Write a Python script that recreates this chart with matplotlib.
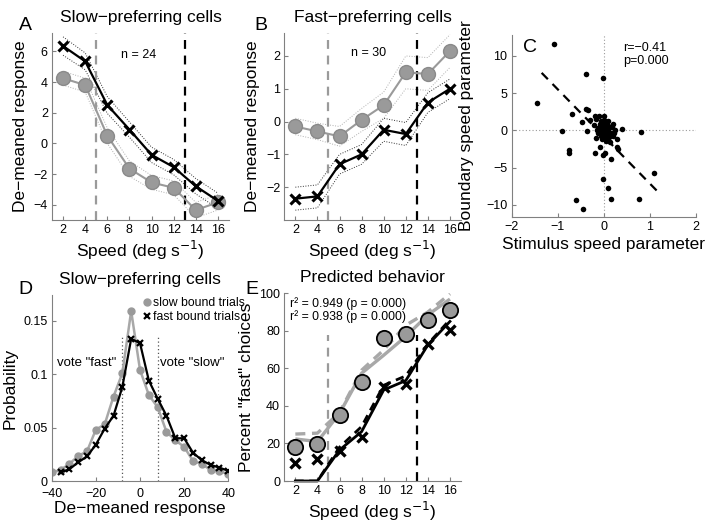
import numpy as np
import matplotlib
matplotlib.use("Agg")
import matplotlib.pyplot as plt

plt.rcParams['font.family'] = ['Liberation Sans', 'DejaVu Sans']

# ---------------- data ----------------
speeds = [2, 4, 6, 8, 10, 12, 14, 16]

# Panel A (slow-preferring cells)
a_fast_bound = [6.35, 5.35, 2.5, 0.9, -0.75, -1.55, -2.8, -3.75]
a_fast_err = [0.6, 0.55, 0.55, 0.5, 0.5, 0.5, 0.5, 0.5]
a_slow_bound = [4.25, 3.8, 0.5, -1.65, -2.55, -2.9, -4.35, -3.85]
a_slow_err = [0.45, 0.45, 0.5, 0.5, 0.45, 0.45, 0.5, 0.5]

# Panel B (fast-preferring cells)
b_slow_bound = [-0.15, -0.3, -0.45, 0.05, 0.5, 1.5, 1.45, 2.15]
b_slow_err = [0.25, 0.25, 0.3, 0.35, 0.4, 0.5, 0.5, 0.5]
b_fast_bound = [-2.35, -2.28, -1.3, -1.0, -0.25, -0.38, 0.58, 1.0]
b_fast_err = [0.35, 0.35, 0.3, 0.3, 0.35, 0.35, 0.3, 0.3]

slow_boundary = 5
fast_boundary = 13

# Panel C scatter
c_x = [-1.08, -1.46, -0.39, -0.02, -0.70, -0.90, -0.39, -0.35, -0.48, -0.37,
       -0.30, -0.75, -0.76, -0.19, -0.08, -0.02, 0.02, 0.16, 0.81, 0.40,
       0.29, 0.28, 0.30, 1.09, -0.01, 0.08, 0.15, 0.76, -0.60, -0.45,
       -0.20, -0.18, -0.10, 0.00, -0.16, 0.10, 0.20, 0.25, 0.20, 0.13,
       0.05, -0.05, -0.03, 0.02, 0.06, -0.08, 0.08, -0.12, 0.12, 0.00,
       -0.04, 0.04, -0.06, 0.06, 0.00, -0.02, 0.03, -0.09, 0.09, 0.01,
       -0.01, 0.05, -0.05, 0.15, -0.14, 0.02, -0.03, 0.07, -0.07, 0.11,
       0.18, -0.22, 0.22, 0.04, -0.11, -0.02, 0.03, -0.06, 0.07, -0.10,
       0.10, 0.00, -0.04, 0.05, -0.08, 0.01, 0.12, -0.13, 0.06, -0.01]
c_y = [11.6, 3.7, 7.5, 7.0, 2.2, -0.1, 2.85, 2.7, 1.1, -0.1,
       1.4, -2.6, -3.1, -3.1, -2.3, -3.3, -3.0, -3.9, -0.2, 0.2,
       -1.2, -2.3, -2.5, -5.7, -6.6, -7.7, -9.2, -9.2, -9.4, -10.5,
       1.9, 1.5, 1.9, 1.9, -1.0, 1.2, 0.9, 0.0, -0.8, -1.6,
       -1.4, 0.5, 1.0, 0.3, 0.8, 0.2, -0.3, -0.4, 0.4, -0.6,
       -0.2, 0.1, 0.6, -0.1, 1.4, -0.9, -0.5, 0.9, 0.6, 0.0,
       0.4, -1.0, -0.6, -0.3, 0.1, 1.1, -1.2, 0.0, 1.3, -0.9,
       0.5, 0.7, -0.4, 0.7, 0.3, 0.2, -0.2, -0.7, 0.3, 0.0,
       0.1, -0.3, -0.8, 0.5, 0.6, 0.8, -0.6, 0.3, -1.1, -0.4]
c_fit_x = [-1.35, 1.2]
c_slope = -6.33
c_intercept = -0.83

# Panel D
d_x_slow = [-40, -36, -32, -28, -24, -20, -16, -12, -8, -4, 0, 4, 8, 12, 16, 20, 24, 28, 32, 36, 40]
d_slow = [0.008, 0.0103, 0.016, 0.0234, 0.0278, 0.048, 0.053, 0.079, 0.1008, 0.159, 0.104,
          0.0805, 0.069, 0.046, 0.038, 0.032, 0.0187, 0.016, 0.0103, 0.0094, 0.0063]
d_x_fast = [-36, -32, -28, -24, -20, -16, -12, -8, -4, 0, 4, 8, 12, 16, 20, 24, 28, 32, 36, 40]
d_fast = [0.008, 0.011, 0.0175, 0.023, 0.034, 0.049, 0.061, 0.088, 0.133, 0.129, 0.094,
          0.077, 0.061, 0.040, 0.040, 0.0265, 0.0195, 0.015, 0.0125, 0.0095]
d_vote_bounds = [-8, 8]

# Panel E
e_slow_obs = [18.3, 19.7, 35.2, 52.6, 76.4, 78.4, 85.9, 91.2]
e_fast_obs = [9.8, 11.6, 16.2, 23.6, 50.3, 51.6, 72.9, 80.5]
e_slow_pred = [22.4, 21.0, 36.0, 57.4, 67.0, 77.0, 88.5, 96.9]
e_slow_pred2 = [25.0, 25.5, 36.5, 59.0, 69.8, 83.0, 90.0, 99.7]
e_fast_pred = [0.0, 0.0, 16.5, 26.3, 48.5, 53.5, 72.5, 85.0]
e_fast_pred2 = [0.0, 0.0, 18.0, 29.0, 51.0, 56.0, 73.0, 86.0]

# ---------------- style ----------------
GRAY = '#9a9a9a'
GRAYL = '#a8a8a8'
SPINE = '#808080'
FS_LAB = 12.5
FS_TICK = 9
W, H = 713, 524


def pos(l, r, b, t):
    return [l / W, 1 - b / H, (r - l) / W, (b - t) / H]


def style(ax):
    for s in ['top', 'right']:
        ax.spines[s].set_visible(False)
    for s in ['left', 'bottom']:
        ax.spines[s].set_color(SPINE)
        ax.spines[s].set_linewidth(0.8)
    ax.tick_params(direction='in', length=3, width=0.8, color=SPINE,
                   labelsize=FS_TICK, pad=3)


def bands(ax, x, vals, err, col):
    v = np.array(vals); e = np.array(err)
    ax.plot(x, v + e, ls=(0, (1, 1.6)), color=col, lw=0.7)
    ax.plot(x, v - e, ls=(0, (1, 1.6)), color=col, lw=0.7)


fig = plt.figure(figsize=(7.13, 5.24), dpi=100)
sp = np.array(speeds)

# ---------- Panel A ----------
axA = fig.add_axes(pos(52, 229, 220, 33))
style(axA)
bands(axA, sp, a_fast_bound, a_fast_err, '#333333')
bands(axA, sp, a_slow_bound, a_slow_err, '#b0b0b0')
axA.axvline(slow_boundary, color=GRAY, ls=(0, (4, 3)), lw=1.6)
axA.axvline(fast_boundary, color='k', ls=(0, (4, 3)), lw=1.6)
axA.plot(sp, a_slow_bound, '-o', color=GRAY, lw=1.5, ms=10, mfc=GRAY, mec='#8a8a8a')
axA.plot(sp, a_fast_bound, '-x', color='k', lw=1.6, ms=7, mew=2.2)
axA.set_xlim(1, 17)
axA.set_ylim(-5, 7.2)
axA.set_xticks(speeds)
axA.set_yticks([-4, -2, 0, 2, 4, 6])
axA.set_xlabel('Speed (deg s$^{-1}$)', fontsize=FS_LAB, labelpad=2)
axA.set_ylabel('De\u2212meaned response', fontsize=FS_LAB, labelpad=4)
axA.set_title('Slow\u2212preferring cells', fontsize=FS_LAB, pad=8)
axA.text(7.2, 5.77, 'n = 24', fontsize=FS_TICK, va='center')
fig.text(25 / W, 1 - 26 / H, 'A', fontsize=14, ha='center', va='center')

# ---------- Panel B ----------
axB = fig.add_axes(pos(284.3, 461, 220, 33))
style(axB)
bands(axB, sp, b_fast_bound, b_fast_err, '#333333')
bands(axB, sp, b_slow_bound, b_slow_err, '#b0b0b0')
axB.axvline(slow_boundary, color=GRAY, ls=(0, (4, 3)), lw=1.6)
axB.axvline(fast_boundary, color='k', ls=(0, (4, 3)), lw=1.6)
axB.plot(sp, b_slow_bound, '-o', color=GRAY, lw=1.5, ms=10, mfc=GRAY, mec='#8a8a8a')
axB.plot(sp, b_fast_bound, '-x', color='k', lw=1.6, ms=7, mew=2.2)
axB.set_xlim(1, 17)
axB.set_ylim(-3, 2.7)
axB.set_xticks(speeds)
axB.set_yticks([-2, -1, 0, 1, 2])
axB.set_xlabel('Speed (deg s$^{-1}$)', fontsize=FS_LAB, labelpad=2)
axB.set_ylabel('De\u2212meaned response', fontsize=FS_LAB, labelpad=4)
axB.set_title('Fast\u2212preferring cells', fontsize=FS_LAB, pad=8)
axB.text(7.0, 2.09, 'n = 30', fontsize=FS_TICK, va='center')
fig.text(261 / W, 1 - 25 / H, 'B', fontsize=14, ha='center', va='center')

# ---------- Panel C ----------
axC = fig.add_axes(pos(511.7, 696, 216.7, 35))
style(axC)
axC.axhline(0, color=GRAY, ls=(0, (1, 2)), lw=0.8)
axC.axvline(0, color=GRAY, ls=(0, (1, 2)), lw=0.8)
axC.scatter(c_x, c_y, s=16, color='k', zorder=3, linewidths=0)
fx = np.array(c_fit_x)
axC.plot(fx, c_intercept + c_slope * fx, color='k', ls=(0, (4, 3)), lw=1.6)
axC.set_xlim(-2, 2)
axC.set_ylim(-11.6, 12.8)
axC.set_xticks([-2, -1, 0, 1, 2])
axC.set_yticks([-10, -5, 0, 5, 10])
axC.set_xlabel('Stimulus speed parameter', fontsize=FS_LAB, labelpad=3)
axC.set_ylabel('Boundary speed parameter', fontsize=FS_LAB, labelpad=9)
axC.text(0.42, 11.8, 'r=\u22120.41\np=0.000', fontsize=FS_TICK, va='top', linespacing=1.1)
fig.text(530 / W, 1 - 47 / H, 'C', fontsize=14, ha='center', va='center')

# ---------- Panel D ----------
axD = fig.add_axes(pos(51.7, 228.3, 481, 295))
style(axD)
axD.tick_params(axis='x', pad=5)
for b in d_vote_bounds:
    axD.plot([b, b], [0, 0.136], color='#555555', ls=(0, (1, 2)), lw=0.9)
axD.plot(d_x_slow, d_slow, '-o', color=GRAYL, lw=1.8, ms=5, mfc=GRAY, mec=GRAY,
         label='slow bound trials')
axD.plot(d_x_fast, d_fast, '-x', color='k', lw=1.6, ms=5, mew=1.6,
         label='fast bound trials')
axD.set_xlim(-40, 40)
axD.set_ylim(0, 0.174)
axD.set_xticks([-40, -20, 0, 20, 40])
axD.set_yticks([0, 0.05, 0.1, 0.15])
axD.set_yticklabels(['0', '0.05', '0.1', '0.15'])
axD.set_xlabel('De\u2212meaned response', fontsize=FS_LAB, labelpad=1)
axD.set_ylabel('Probability', fontsize=FS_LAB, labelpad=4)
axD.set_title('Slow\u2212preferring cells', fontsize=FS_LAB, pad=8)
axD.text(-37.6, 0.1105, 'vote "fast"', fontsize=9.5, va='center')
axD.text(9.0, 0.1105, 'vote "slow"', fontsize=9.5, va='center')
leg = axD.legend(loc='upper left', bbox_to_anchor=(0.51, 1.0), frameon=False,
                 fontsize=8.8, handlelength=0.5, handletextpad=0.25,
                 labelspacing=0.15, borderaxespad=0.1, borderpad=0.1)
for h in leg.legend_handles:
    h.set_linestyle('none')
fig.text(25 / W, 1 - 289 / H, 'D', fontsize=14, ha='center', va='center')

# ---------- Panel E ----------
axE = fig.add_axes(pos(284.3, 461, 481, 293.3))
style(axE)
axE.plot([slow_boundary, slow_boundary], [0, 78], color=GRAY, ls=(0, (4, 3)), lw=1.6)
axE.plot([fast_boundary, fast_boundary], [0, 78], color='k', ls=(0, (4, 3)), lw=1.6)
axE.plot(sp, e_slow_pred, '-', color=GRAYL, lw=2.4, solid_capstyle='butt')
axE.plot(sp, e_slow_pred2, color=GRAYL, lw=2.4, ls=(0, (3, 2)))
axE.plot(sp, e_fast_pred, '-', color='k', lw=2.0, clip_on=False)
axE.plot(sp, e_fast_pred2, color='k', lw=2.0, ls=(0, (3, 2)))
axE.plot(sp, e_slow_obs, 'o', ms=11, mfc=GRAY, mec='k', mew=1.3)
axE.plot(sp, e_fast_obs, 'x', ms=7, mec='k', mew=2.4)
axE.set_xlim(1, 17)
axE.set_ylim(0, 100)
axE.set_xticks(speeds)
axE.set_yticks([0, 20, 40, 60, 80, 100])
axE.set_xlabel('Speed (deg s$^{-1}$)', fontsize=FS_LAB, labelpad=2)
axE.set_ylabel('Percent "fast" choices', fontsize=FS_LAB, labelpad=4)
axE.set_title('Predicted behavior', fontsize=FS_LAB, pad=8)
axE.text(1.48, 94.6, 'r\u00b2 = 0.949 (p = 0.000)', fontsize=8.8, va='center')
axE.text(1.48, 87.5, 'r\u00b2 = 0.938 (p = 0.000)', fontsize=8.8, va='center')
fig.text(252 / W, 1 - 289 / H, 'E', fontsize=14, ha='center', va='center')

fig.savefig('out.png', dpi=100)
